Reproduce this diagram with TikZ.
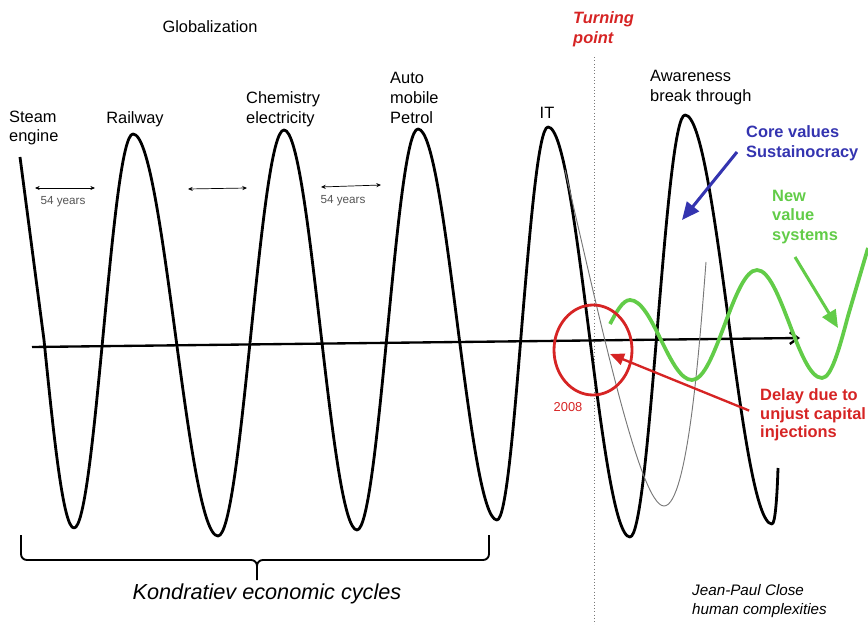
\documentclass[tikz,border=0pt]{standalone}
\usepackage{fontspec}
\setmainfont{Liberation Sans}
\usepackage{tikz}
\usetikzlibrary{arrows.meta,shapes.geometric}
\definecolor{kred}{RGB}{214,36,36}
\definecolor{kblue}{RGB}{52,52,176}
\definecolor{kgreen}{RGB}{98,204,72}
\definecolor{kgray}{RGB}{120,120,120}
\newcommand{\lblsize}{\fontsize{14}{17}\selectfont}
\tikzset{
  lbl/.style={inner sep=0pt,align=left,font=\lblsize},
  wave/.style={line width=2.4pt,line join=round},
  years/.style={{Stealth[length=4pt,width=3.5pt]}-{Stealth[length=4pt,width=3.5pt]},line width=0.6pt},
  fat/.style={line width=2.6pt,-{Triangle[length=15pt,width=13pt]}},
}

\begin{document}
\begin{tikzpicture}[x=0.03cm,y=-0.03cm]
  \useasboundingbox (0,0) rectangle (868,625);
  % Turning point line
  \node[lbl,anchor=west,kred,font=\lblsize\bfseries\itshape] (turn) at (573,29) {Turning\\point};
  \coordinate (tptop) at (594,57);
  \coordinate (tpbot) at (594,625);
  \draw[dotted,kgray,line width=0.8pt] (tptop) -- (tpbot);
  % Time axis
  \coordinate (axstart) at (32,347);
  \coordinate (axend) at (800,338);
  \draw[line width=2pt,-{Straight Barb[length=7pt,width=10pt]}] (axstart) -- (axend);
  % Kondratiev waves
  \draw[wave] (20,157) -- (44,340) sin (74,528) cos (103.5,331) sin (133,134)
    cos (175.5,335) sin (218,536) cos (251,333) sin (284,130)
    cos (320.5,330) sin (357,530) cos (387.5,330) sin (418,129)
    cos (457.5,325) sin (497,520) cos (522,324) sin (548,127)
    cos (589,332) sin (630,537) cos (657.5,326) sin (685,115)
    cos (728.5,320) sin (772,524) .. controls (775,524) and (777,500) .. (778,468);
  % Delayed wave
  \draw[kgray,line width=0.8pt] (565,170) .. controls (600,320) and (640,506) .. (664,506)
    .. controls (688,506) and (700,340) .. (706,262);
  % New value wave
  \draw[kgreen,line width=3.2pt,line join=round] (610,324) sin (630,300) cos (661,340) sin (692,380)
    cos (724.5,325) sin (757,270) cos (789.5,324) sin (822,378) cos (848,316) -- (868,248);
  % 2008 ring
  \node[draw=kred,line width=2.4pt,ellipse,inner sep=0pt,minimum width=2.34cm,minimum height=2.7cm] (ring) at (593,350) {};
  \node[inner sep=0pt,kred,font=\fontsize{11}{13}\selectfont] (yr) at (568,407) {2008};
  % Top labels
  \node[lbl] (glob) at (210,27) {Globalization};
  \node[lbl,anchor=west] (steam) at (9,128) {Steam\\engine};
  \node[lbl] (rail) at (135,119) {Railway};
  \node[lbl,anchor=west] (chem) at (246,109) {Chemistry\\electricity};
  \node[lbl,anchor=west] (auto) at (390,98) {Auto\\mobile\\Petrol};
  \node[lbl] (it) at (547,113) {IT};
  \node[lbl,anchor=west] (aware) at (650,88) {Awareness\\break through};
  % 54 years
  \draw[years] (35,188) -- (95,188);
  \draw[years] (188,189) -- (247,188);
  \draw[years] (321,187) -- (381,185);
  \node[inner sep=0pt,kgray!70!black,font=\fontsize{10}{12}\selectfont] (yrsa) at (63,202) {54 years};
  \node[inner sep=0pt,kgray!70!black,font=\fontsize{10}{12}\selectfont] (yrsb) at (343,201) {54 years};
  % Right labels
  \node[lbl,anchor=west,kblue,font=\lblsize\bfseries] (core) at (746,143) {Core values\\Sustainocracy};
  \node[lbl,anchor=west,kgreen,font=\lblsize\bfseries] (newval) at (772,217) {New\\value\\systems};
  \node[lbl,anchor=west,kred,font=\fontsize{14}{16}\selectfont\bfseries] (delay) at (760,415) {Delay due to\\unjust capital\\injections};
  \coordinate (bluetail) at (737,152);
  \coordinate (bluetip) at (682,220);
  \draw[fat,kblue] (bluetail) -- (bluetip);
  \coordinate (greentail) at (795,257);
  \coordinate (greentip) at (838,328);
  \draw[fat,kgreen] (greentail) -- (greentip);
  \coordinate (redtip) at (610,354);
  \draw[kred,line width=2pt,-{Triangle[length=12pt,width=10pt]},shorten <=10pt] (delay.west) -- (redtip);
  % Brace
  \draw[line width=1.6pt,rounded corners=5pt] (21,535) -- (21,560) -- (257,560) -- (257,580);
  \draw[line width=1.6pt,rounded corners=5pt] (257,575) -- (257,560) -- (489,560) -- (489,535);
  % Bottom captions
  \node[inner sep=0pt,font=\fontsize{18.5}{22}\selectfont\itshape] (kond) at (267,594) {Kondratiev economic cycles};
  \node[lbl,anchor=west,font=\fontsize{13}{16.5}\selectfont\itshape] (close) at (692,601) {Jean-Paul Close\\human complexities};
\end{tikzpicture}
\end{document}
